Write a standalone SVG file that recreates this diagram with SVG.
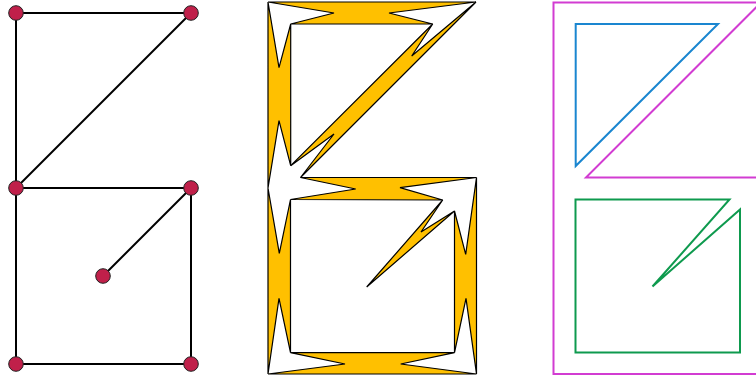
<svg xmlns="http://www.w3.org/2000/svg" width="756" height="381" viewBox="0 0 756 381">
<style>
.edge{stroke:#000;stroke-width:2;fill:none}
.node{fill:#c0204a;stroke:#222;stroke-width:1}
.band{fill:#ffc000;stroke:#000;stroke-width:1.2;stroke-linejoin:miter}
.face{fill:none;stroke-width:2}
</style>
<rect width="756" height="381" fill="#fff"/>
<g id="connectors">
<line class="edge" x1="16" y1="13" x2="191" y2="13"/>
<line class="edge" x1="16" y1="13" x2="16" y2="188"/>
<line class="edge" x1="191" y1="13" x2="16" y2="188"/>
<line class="edge" x1="16" y1="188" x2="191" y2="188"/>
<line class="edge" x1="16" y1="188" x2="16" y2="364"/>
<line class="edge" x1="191" y1="188" x2="191" y2="364"/>
<line class="edge" x1="191" y1="188" x2="103" y2="276"/>
<line class="edge" x1="16" y1="364" x2="191" y2="364"/>
</g>
<g id="n1"><circle class="node" cx="16" cy="13" r="7.3"/></g>
<g id="n2"><circle class="node" cx="191" cy="13" r="7.3"/></g>
<g id="n3"><circle class="node" cx="16" cy="188" r="7.3"/></g>
<g id="n4"><circle class="node" cx="191" cy="188" r="7.3"/></g>
<g id="n5"><circle class="node" cx="103" cy="276" r="7.3"/></g>
<g id="n6"><circle class="node" cx="16" cy="364" r="7.3"/></g>
<g id="n7"><circle class="node" cx="191" cy="364" r="7.3"/></g>
<g id="bands">
<polygon class="band" points="268,2 476,2 389,13 432.7,24 290.7,24 334,13"/>
<polygon class="band" points="268,2 279,67.7 290.7,24 290.7,165.7 279,120.7 268,188"/>
<polygon class="band" points="476,2 411.7,56 432.7,24 290.7,165.7 334,134 300.5,177.5"/>
<polygon class="band" points="300.5,177.5 476.5,177.5 400,187.7 442.7,200 290.5,199.5 355.7,189"/>
<polygon class="band" points="442.7,200 366.7,287 454.5,211 421,232"/>
<polygon class="band" points="268,188 279.3,253.3 290.5,199.5 290.5,352.7 279,298.3 268,374"/>
<polygon class="band" points="268,374 345,364 290.5,352.7 454.5,352.7 400.7,364 476.5,374"/>
<polygon class="band" points="476.5,177.5 465.7,254.3 454.5,211 454.5,352.7 466,298.3 476.5,374"/>
</g>
<g id="faces">
<polygon class="face" stroke="#d23cd2" points="553.5,2.5 761,2.5 586,177.5 762,177.5 762,374 553.5,374"/>
<polygon class="face" stroke="#1a86d0" points="575.7,24 718,24 575.7,166"/>
<polygon class="face" stroke="#0e9a4e" points="575.5,199.5 729.5,199.5 652.5,286.5 740,209.5 740,352.5 575.5,352.5"/>
</g>
</svg>
